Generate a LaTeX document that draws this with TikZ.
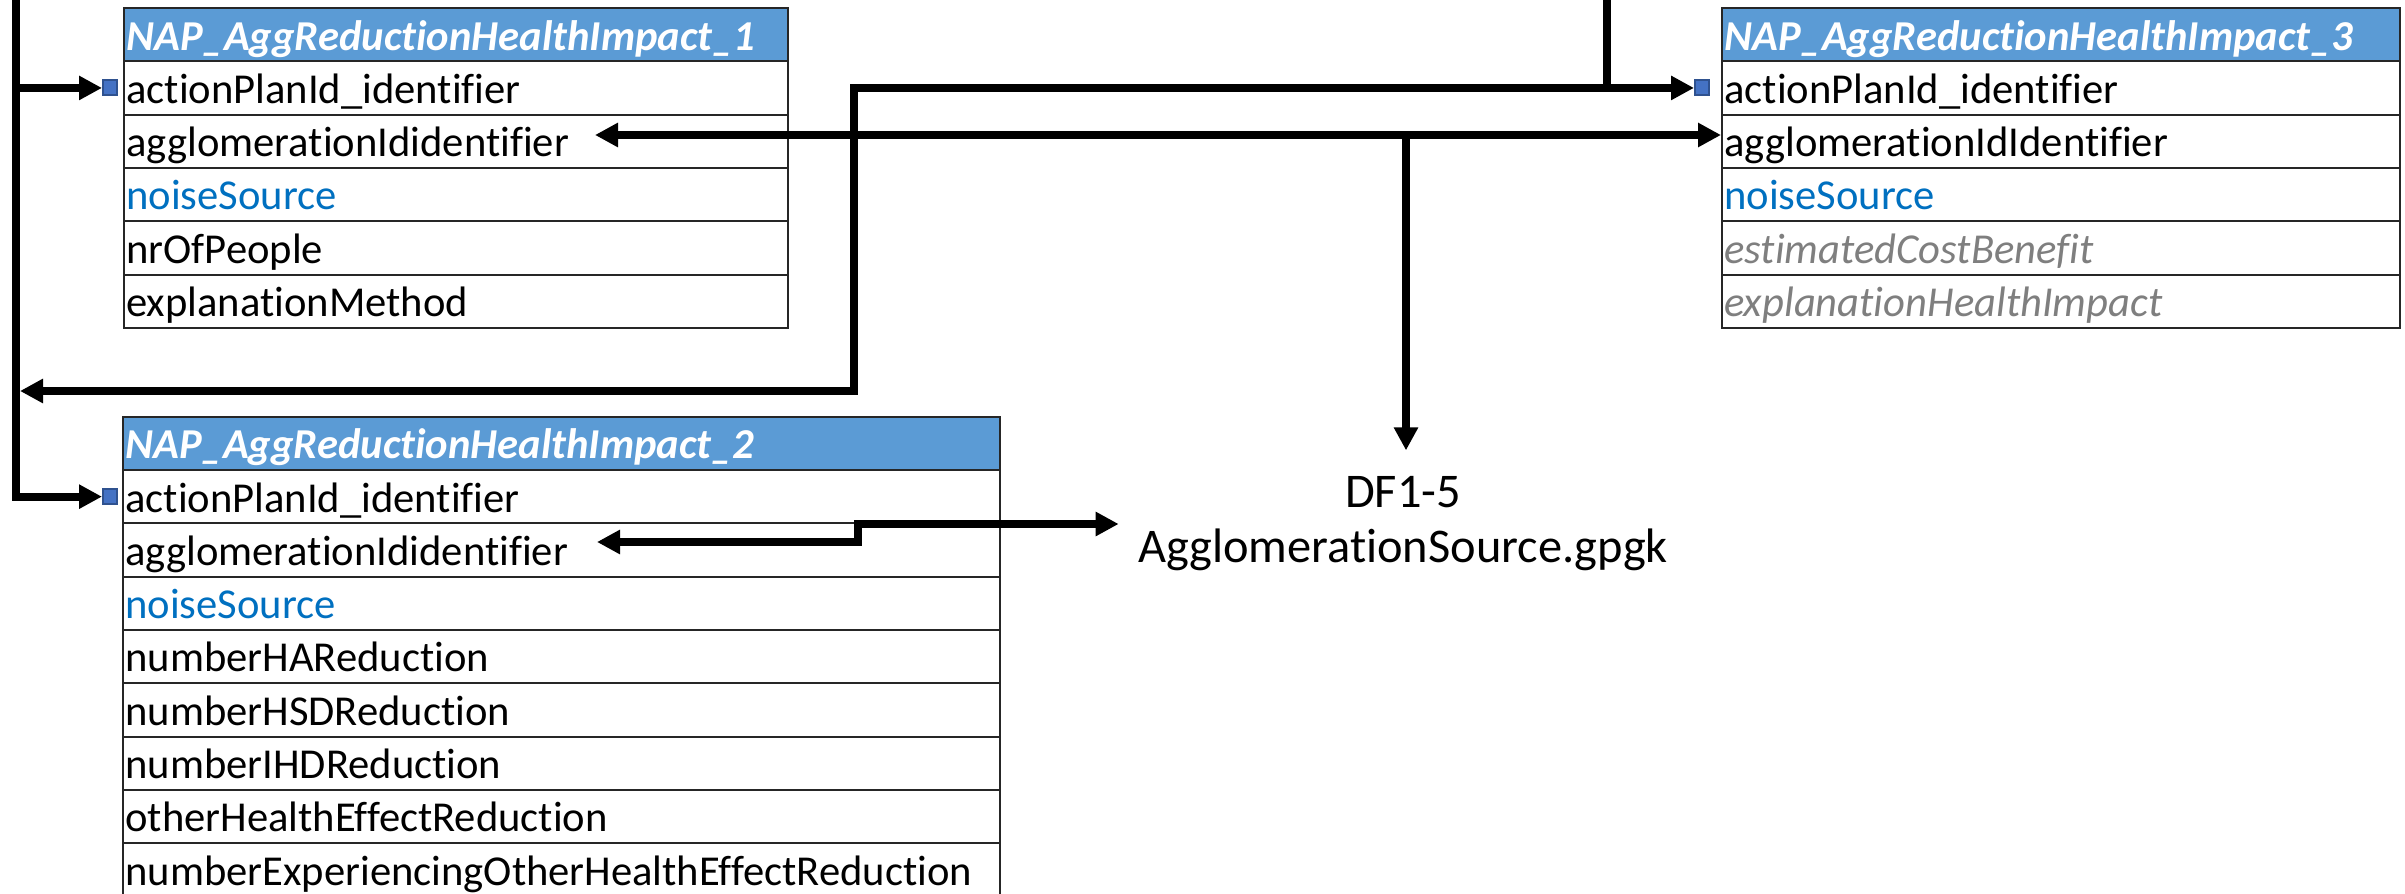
\documentclass[tikz,border=0pt]{standalone}
\usepackage{fontspec}
\setmainfont{Carlito}[Ligatures=NoCommon]
\usepackage{tikz}
\usetikzlibrary{arrows.meta}
\usepackage{xcolor}
\definecolor{headblue}{HTML}{5B9BD5}
\definecolor{srcblue}{HTML}{0070C0}
\definecolor{optgrey}{HTML}{7F7F7F}
\definecolor{pkfill}{HTML}{4472C4}
\definecolor{pkline}{HTML}{2F528F}

\begin{document}
\begin{tikzpicture}[x=0.5pt,y=-0.5pt,
    tablerow/.style={draw=black!85, line width=1pt, anchor=north west, inner xsep=1.2pt, inner ysep=0pt,
        text height=21pt, text depth=5.65pt, align=left, font=\fontsize{21.3}{25}\selectfont},
    tablehead/.style={tablerow, fill=headblue, text=white, font=\fontsize{21.3}{25}\selectfont\bfseries\itshape},
    pkmark/.style={draw=pkline, fill=pkfill, line width=1pt, minimum width=7pt, minimum height=7.5pt, inner sep=0pt, anchor=east},
    link/.style={line width=3.85pt, line join=miter, -{Triangle[length=11.5pt,width=11.5pt]}},
    twoway/.style={link, {Triangle[length=11.5pt,width=11.5pt]}-{Triangle[length=11.5pt,width=11.5pt]}},
    dffile/.style={font=\fontsize{24.2}{27.5}\selectfont, align=center, inner xsep=9.5pt, inner ysep=13pt}]
    \useasboundingbox (0,0) rectangle (2405,894);
    \clip (0,0) rectangle (2405,894);
    \fill[white] (0,0) rectangle (2405,894);
    % table 1
    \node[tablehead, text width=329.6pt] (t1) at (123,7) {NAP\_AggReductionHealthImpact\_1};
    \foreach \txt [count=\i] in {actionPlanId\_identifier, agglomerationIdidentifier,
        \textcolor{srcblue}{noiseSource}, nrOfPeople, explanationMethod}
        \node[tablerow, text width=329.6pt] (t1r\i) at (123,{7+53.3*\i}) {\txt};
    % table 2
    \node[tablehead, text width=435.85pt] (t2) at (122,415.7) {NAP\_AggReductionHealthImpact\_2};
    \foreach \txt [count=\i] in {actionPlanId\_identifier, agglomerationIdidentifier,
        \textcolor{srcblue}{noiseSource}, numberHAReduction, numberHSDReduction, numberIHDReduction,
        otherHealthEffectReduction, numberExperiencingOtherHealthEffectReduction}
        \node[tablerow, text width=435.85pt] (t2r\i) at (122,{415.7+53.3*\i}) {\txt};
    % table 3
    \node[tablehead, text width=336.4pt] (t3) at (1721,7) {NAP\_AggReductionHealthImpact\_3};
    \foreach \txt [count=\i] in {actionPlanId\_identifier, agglomerationIdIdentifier,
        \textcolor{srcblue}{noiseSource}, \textcolor{optgrey}{\itshape estimatedCostBenefit},
        \textcolor{optgrey}{\itshape explanationHealthImpact}}
        \node[tablerow, text width=336.4pt] (t3r\i) at (1721,{7+53.3*\i}) {\txt};
    % key marks
    \node[pkmark] (k1) at ([xshift=-2.5pt]t1r1.west) {};
    \node[pkmark] (k2) at ([xshift=-2pt]t2r1.west) {};
    \node[pkmark] (k3) at ([xshift=-5.5pt]t3r1.west) {};
    % data file
    \node[dffile] (df) at (1403,524) {DF1-5\\AgglomerationSource.gpgk};
    %points
    \coordinate (topA) at (16,-10);
    \coordinate (topB) at (1607,-10);
    \coordinate (bendA) at (854,391);
    \coordinate (hitA) at (20,391);
    \coordinate (j2) at (1406,135);
    \coordinate (in1) at (595,135);
    \coordinate (in2) at (597,542);
    \coordinate (bendB) at (858,521);
    % links
    \draw[link] (topA) |- (k2.west);
    \draw[link] (topA |- k1.west) -- (k1.west);
    \draw[link] (topB) |- (k3.west);
    \draw[link] (topB |- k3.west) -| (bendA) -- (hitA);
    \draw[twoway] (in1) -- (j2) -- (j2 |- df.north);
    \draw[link] (j2) -- (j2 -| t3r2.west);
    \draw[twoway] (in2) -| (bendB |- df.west) -- (df.west);
\end{tikzpicture}
\end{document}
